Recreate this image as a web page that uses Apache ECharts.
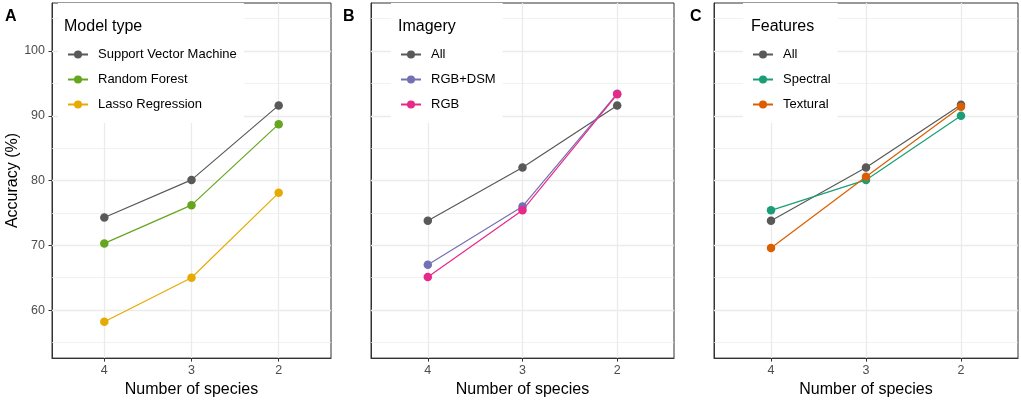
<!DOCTYPE html>
<html>
<head>
<meta charset="utf-8">
<script src="https://cdn.jsdelivr.net/npm/echarts@6/dist/echarts.min.js"></script>
<style>
  html, body { margin: 0; padding: 0; background: #fff; }
  #chart { width: 1021px; height: 403px; }
</style>
</head>
<body>
<div id="chart"></div>
<script>
// number of species on the x axis (plotted 4 -> 2)
const speciesCounts = [4, 3, 2];
const yTicks = [60, 70, 80, 90, 100];
const yMinorLines = [55, 65, 75, 85, 95, 105];

// panel A: model type
const modelNames = ['Support Vector Machine', 'Random Forest', 'Lasso Regression'];
const svmAcc = [74.3, 80.1, 91.6];
const rfAcc = [70.3, 76.2, 88.7];
const lassoAcc = [58.2, 65.0, 78.1];

// panel B: imagery
const imageryNames = ['All', 'RGB+DSM', 'RGB'];
const imgAllAcc = [73.8, 82.0, 91.6];
const rgbDsmAcc = [67.0, 76.0, 93.4];
const rgbAcc = [65.1, 75.4, 93.3];

// panel C: features
const featureNames = ['All', 'Spectral', 'Textural'];
const featAllAcc = [73.8, 82.0, 91.7];
const spectralAcc = [75.4, 80.1, 90.0];
const texturalAcc = [69.6, 80.6, 91.4];

const panelLetters = ['A', 'B', 'C'];
const legendTitles = ['Model type', 'Imagery', 'Features'];

const FONT = "'Liberation Sans', Arial, sans-serif";

const panels = [
    { names: modelNames, values: [svmAcc, rfAcc, lassoAcc], colors: ['#595959', '#66A61E', '#E6AB02'] },
    { names: imageryNames, values: [imgAllAcc, rgbDsmAcc, rgbAcc], colors: ['#595959', '#7570B3', '#E7298A'] },
    { names: featureNames, values: [featAllAcc, spectralAcc, texturalAcc], colors: ['#595959', '#1B9E77', '#D95F02'] }
];

// layout of the three panels
const gridLeft = [52, 371, 714];
const gridWidth = [279, 303, 304];
const letterLeft = [5, 343, 690];
const legendLeft = [58, 391, 743];
const legendTitleLeft = [64, 398, 751];

const grids = [], xAxes = [], yAxes = [], series = [], legends = [], titles = [];

panels.forEach((p, i) => {
    grids.push({
        left: gridLeft[i], top: 3, width: gridWidth[i], height: 356,
        show: true, borderColor: '#333', borderWidth: 1, backgroundColor: '#fff'
    });
    xAxes.push({
        gridIndex: i,
        type: 'value',
        inverse: true,
        min: 1.4,
        max: 4.6,
        name: 'Number of species',
        nameLocation: 'middle',
        nameGap: 23,
        nameTextStyle: { fontFamily: FONT, fontSize: 16, color: '#000' },
        axisLine: { show: true, onZero: false, lineStyle: { color: '#333' } },
        axisTick: { show: true, length: 3.5, customValues: speciesCounts, lineStyle: { color: '#333' } },
        axisLabel: { customValues: speciesCounts, margin: 6, fontFamily: FONT, fontSize: 12.5, color: '#4d4d4d' },
        splitLine: { show: false }
    });
    yAxes.push({
        gridIndex: i,
        type: 'value',
        min: 52.6,
        max: 107.4,
        name: i === 0 ? 'Accuracy (%)' : '',
        nameLocation: 'middle',
        nameGap: 31,
        nameTextStyle: { fontFamily: FONT, fontSize: 16, color: '#000' },
        axisLine: { show: true, onZero: false, lineStyle: { color: '#333' } },
        axisTick: { show: i === 0, length: 3.5, customValues: yTicks, lineStyle: { color: '#333' } },
        axisLabel: { show: i === 0, customValues: yTicks, margin: 7, fontFamily: FONT, fontSize: 12.5, color: '#4d4d4d' },
        splitLine: { show: false }
    });
    // panel grid lines, kept under the legend and the data
    series.push({
        type: 'line',
        xAxisIndex: i, yAxisIndex: i,
        data: [],
        z: 1,
        silent: true,
        markLine: {
            z: 1,
            silent: true,
            symbol: 'none',
            label: { show: false },
            animation: false,
            data: [
                ...yMinorLines.map(v => ({ yAxis: v, lineStyle: { color: '#ebebeb', width: 0.7, type: 'solid' } })),
                ...yTicks.map(v => ({ yAxis: v, lineStyle: { color: '#ebebeb', width: 1.3, type: 'solid' } })),
                ...speciesCounts.map(v => ({ xAxis: v, lineStyle: { color: '#ebebeb', width: 1.3, type: 'solid' } }))
            ]
        }
    });
    p.names.forEach((name, k) => {
        series.push({
            name: name,
            type: 'line',
            xAxisIndex: i, yAxisIndex: i,
            z: 3,
            symbol: 'circle',
            symbolSize: 8.5,
            color: p.colors[k],
            lineStyle: { width: 1.2, color: p.colors[k] },
            itemStyle: { color: p.colors[k] },
            data: speciesCounts.map((s, j) => [s, p.values[k][j]])
        });
    });
    legends.push({
        data: p.names,
        orient: 'vertical',
        left: legendLeft[i],
        top: 3,
        padding: [45, 7, 12, 9],
        backgroundColor: '#fff',
        itemWidth: 20,
        itemHeight: 10,
        itemGap: 12,
        selectedMode: false,
        textStyle: { fontFamily: FONT, fontSize: 13, color: '#000', padding: [0, 0, 0, 5] }
    });
    titles.push({
        text: panelLetters[i],
        left: letterLeft[i], top: 9, padding: 0,
        textStyle: { fontFamily: FONT, fontSize: 16, fontWeight: 'bold', color: '#000' }
    });
    titles.push({
        text: legendTitles[i],
        left: legendTitleLeft[i], top: 19, padding: 0,
        textStyle: { fontFamily: FONT, fontSize: 16, fontWeight: 'normal', color: '#000' }
    });
});

const chart = echarts.init(document.getElementById('chart'));
chart.setOption({
    animation: false,
    backgroundColor: '#fff',
    title: titles,
    legend: legends,
    grid: grids,
    xAxis: xAxes,
    yAxis: yAxes,
    series: series
});
window.addEventListener('resize', () => chart.resize());
</script>
</body>
</html>
